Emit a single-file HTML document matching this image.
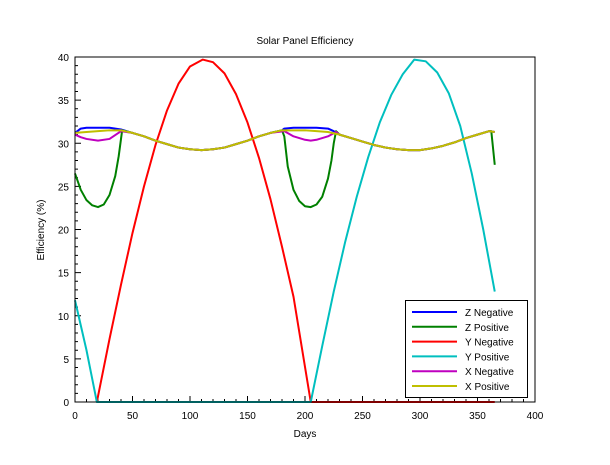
<!DOCTYPE html>
<html><head><meta charset="utf-8"><style>
html,body{margin:0;padding:0;background:#fff;}
svg text{font-family:"Liberation Sans",sans-serif;fill:#000;}
</style></head><body>
<svg id="chart" width="610" height="460"></svg>
<script>
const xTicks=[0,50,100,150,200,250,300,350,400];
const yTicks=[0,5,10,15,20,25,30,35,40];
const baseDays=[0,10,20,30,40,50,60,70,80,90,100,110,120,130,140,150,160,170,180,190,200,210,220,230,240,250,260,270,280,290,300,310,320,330,340,350,360,365];
const xPosVals=[31.2,31.3,31.4,31.5,31.5,31.2,30.8,30.3,29.9,29.5,29.3,29.2,29.3,29.5,29.9,30.3,30.8,31.2,31.5,31.5,31.5,31.4,31.3,31.0,30.6,30.2,29.8,29.5,29.3,29.2,29.2,29.4,29.7,30.1,30.6,31.0,31.4,31.3];
const zNegDays=[0,5,10,20,30,40,50,60,70,80,90,100,110,120,130,140,150,160,170,180,182,190,200,210,220,225,230,240,250,260,270,280,290,300,310,320,330,340,350,360,365];
const zNegVals=[31.2,31.7,31.8,31.8,31.8,31.6,31.2,30.8,30.3,29.9,29.5,29.3,29.2,29.3,29.5,29.9,30.3,30.8,31.2,31.5,31.7,31.8,31.8,31.8,31.7,31.4,31.0,30.6,30.2,29.8,29.5,29.3,29.2,29.2,29.4,29.7,30.1,30.6,31.0,31.4,31.3];
const xNegDays=[0,5,10,20,30,40,50,60,70,80,90,100,110,120,130,140,150,160,170,182,190,200,205,210,220,227,230,240,250,260,270,280,290,300,310,320,330,340,350,360,365];
const xNegVals=[31.0,30.7,30.5,30.3,30.5,31.4,31.2,30.8,30.3,29.9,29.5,29.3,29.2,29.3,29.5,29.9,30.3,30.8,31.2,31.4,30.8,30.4,30.3,30.4,30.8,31.3,31.0,30.6,30.2,29.8,29.5,29.3,29.2,29.2,29.4,29.7,30.1,30.6,31.0,31.4,31.3];
const zPosDays=[0,5,10,15,20,25,30,35,38,40,41,50,60,70,80,90,100,110,120,130,140,150,160,170,180,182,185,190,195,200,205,210,215,220,223,225,227,230,240,250,260,270,280,290,300,310,320,330,340,350,360,362,365];
const zPosVals=[26.5,24.6,23.4,22.8,22.6,22.9,24.0,26.2,28.5,30.5,31.5,31.2,30.8,30.3,29.9,29.5,29.3,29.2,29.3,29.5,29.9,30.3,30.8,31.2,31.5,30.8,27.3,24.6,23.3,22.7,22.6,22.9,23.8,25.9,28.0,30.0,31.4,31.0,30.6,30.2,29.8,29.5,29.3,29.2,29.2,29.4,29.7,30.1,30.6,31.0,31.4,31.4,27.5];
const yNegDays=[19,30,40,50,60,70,80,90,100,111,120,130,140,150,160,170,180,190,205,250,300,365];
const yNegVals=[0,7.3,13.6,19.6,25,29.8,33.8,36.9,38.9,39.7,39.4,38.1,35.7,32.4,28.3,23.5,18,12.2,0,0,0,0];
const yPosDays=[0,10,19,100,205,215,225,235,245,255,265,275,285,295,305,315,325,335,345,355,365];
const yPosVals=[11.8,6,0,0,0,6.5,12.8,18.6,23.8,28.4,32.4,35.6,38,39.7,39.5,38.2,35.8,32,26.5,20,12.8];

const L=75,R=535,T=57,B=402;
const sx=d=>L+(d-0)/(400-0)*(R-L);
const sy=v=>B-(v-0)/(40-0)*(B-T);
const svg=document.getElementById('chart');
const NS='http://www.w3.org/2000/svg';
function mk(tag,attrs,parent){const e=document.createElementNS(NS,tag);for(const k in attrs)e.setAttribute(k,attrs[k]);(parent||svg).appendChild(e);return e;}

const title=mk('text',{x:305,y:44,'text-anchor':'middle','font-size':10});
title.textContent='Solar Panel Efficiency';



const axes=mk('g',{});


for(let d=0;d<=400;d+=10){
  const major=d%50===0;
  mk('line',{x1:sx(d),x2:sx(d),y1:B,y2:B-(major?6:3),stroke:'#000','stroke-width':1},axes);
}
xTicks.forEach(t=>{
  const tx=mk('text',{x:sx(t),y:B+17,'text-anchor':'middle','font-size':10},axes);
  tx.textContent=t;
  
  
});
for(let v=0;v<=40;v+=1){
  const major=v%5===0;
  mk('line',{x1:L,x2:L+(major?6:3),y1:sy(v),y2:sy(v),stroke:'#000','stroke-width':1},axes);
}
yTicks.forEach(t=>{
  const ty=mk('text',{x:L-6,y:sy(t)+4,'text-anchor':'end','font-size':10},axes);
  ty.textContent=t;
  
  
});
const xl=mk('text',{x:305,y:437,'text-anchor':'middle','font-size':10});
xl.textContent='Days';


const yl=mk('text',{x:44,y:230,'text-anchor':'middle','font-size':10,transform:'rotate(-90 44 230)'});
yl.textContent='Efficiency (%)';



const series=[
 ['Z Negative','#0000ff',zNegDays,zNegVals],
 ['Z Positive','#008000',zPosDays,zPosVals],
 ['Y Negative','#ff0000',yNegDays,yNegVals],
 ['Y Positive','#00bfbf',yPosDays,yPosVals],
 ['X Negative','#bf00bf',xNegDays,xNegVals],
 ['X Positive','#bfbf00',baseDays,xPosVals]
];
series.forEach(s=>{
  const p=mk('polyline',{points:s[2].map((d,i)=>sx(d)+','+sy(s[3][i])).join(' '),fill:'none',stroke:s[1],'stroke-width':2,'stroke-linejoin':'round'});
  
  
});
const frame=mk('rect',{x:L,y:T,width:R-L,height:B-T,fill:'none',stroke:'#000','stroke-width':1});



const lg=mk('g',{});


mk('rect',{x:405.5,y:300.5,width:122,height:97,fill:'#fff',stroke:'#000','stroke-width':1},lg);
series.forEach((s,i)=>{
  const y=312+i*14.8;
  const ln=mk('line',{x1:412,x2:457,y1:y,y2:y,stroke:s[1],'stroke-width':2},lg);
  
  
  const t=mk('text',{x:465,y:y+4,'font-size':10},lg);
  t.textContent=s[0];
  
  
});
</script>
</body></html>
